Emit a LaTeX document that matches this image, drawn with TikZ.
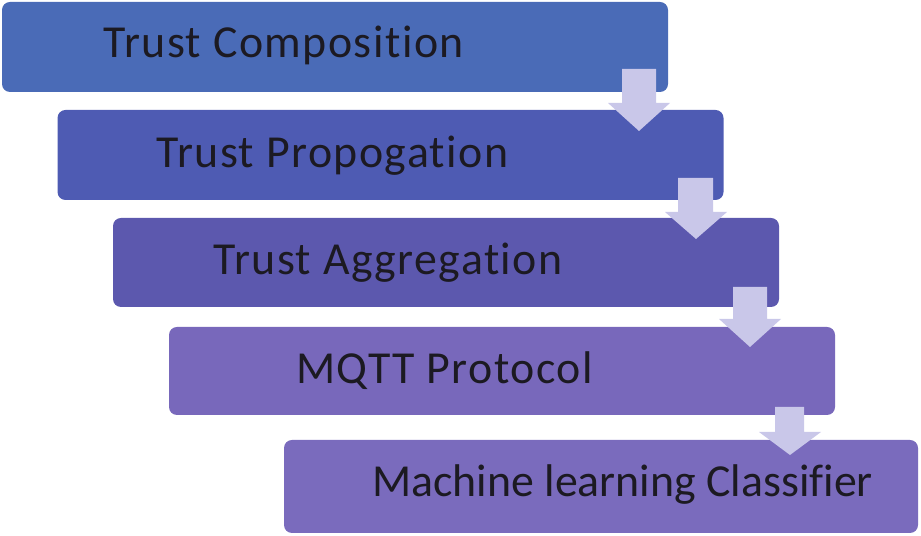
\documentclass[tikz,border=0pt]{standalone}
\usepackage{fontspec}
\setmainfont{Carlito}[Ligatures=NoCommon]
\usepackage{tikz}
\usetikzlibrary{positioning}

\definecolor{stepOne}{HTML}{4A6BB7}
\definecolor{stepTwo}{HTML}{4E5BB3}
\definecolor{stepThree}{HTML}{5C58AE}
\definecolor{stepFour}{HTML}{7868BB}
\definecolor{stepFive}{HTML}{7A6BBD}
\definecolor{arrowFill}{HTML}{C9C7E9}
\definecolor{labelInk}{HTML}{1C1A22}

\tikzset{
  stepbox/.style={rectangle,rounded corners=8bp,inner sep=0pt,
    minimum width=666bp,minimum height=90bp,draw=none},
  steplabel/.style={anchor=base west,inner sep=0pt,text=labelInk,
    font=\fontsize{46}{50}\selectfont},
  widelabel/.style={steplabel,
    font=\fontsize{46}{50}\selectfont\addfontfeatures{LetterSpace=3.2}},
  downarrow/.style={fill=arrowFill,draw=none},
}

\begin{document}
\begin{tikzpicture}[x=1bp,y=1bp]
\useasboundingbox (0,0) rectangle (921,536);
%%
\node (composition) at (335bp,489bp) [stepbox,fill=stepOne] {};
  \node (propagation) at (390.5bp,381bp) [stepbox,fill=stepTwo] {};
  \node (aggregation) at (446bp,273.5bp) [stepbox,fill=stepThree,minimum height=89bp] {};
  \node (mqtt) at (502bp,165bp) [stepbox,fill=stepFour,minimum height=88bp] {};
  \node (classifier) at (601bp,49.5bp) [stepbox,fill=stepFive,minimum width=634bp,minimum height=93bp] {};
%%
\node (compositionText) at (103bp,478bp) [widelabel] {Trust Composition};
  \node (propagationText) at (156bp,368bp) [widelabel] {Trust Propogation};
  \node (aggregationText) at (213bp,261bp) [widelabel] {Trust Aggregation};
  \node (mqttText) at (296bp,152bp) [widelabel] {MQTT Protocol};
  \node (classifierText) at (372bp,39bp) [steplabel] {Machine learning Classifier};
%%
\fill [downarrow] (622,467) -- (656,467) -- (656,433) -- (670,433) -- (639,405) -- (608,433) -- (622,433) -- cycle;
  \fill [downarrow] (678,358) -- (713,358) -- (713,324) -- (727,324) -- (696,297) -- (665,324) -- (678,324) -- cycle;
  \fill [downarrow] (733,249) -- (767,249) -- (767,217) -- (781,217) -- (750,189) -- (719,217) -- (733,217) -- cycle;
  \fill [downarrow] (775,129) -- (804,129) -- (804,104) -- (821,104) -- (790,81) -- (759,104) -- (775,104) -- cycle;
%
\end{tikzpicture}
\end{document}
